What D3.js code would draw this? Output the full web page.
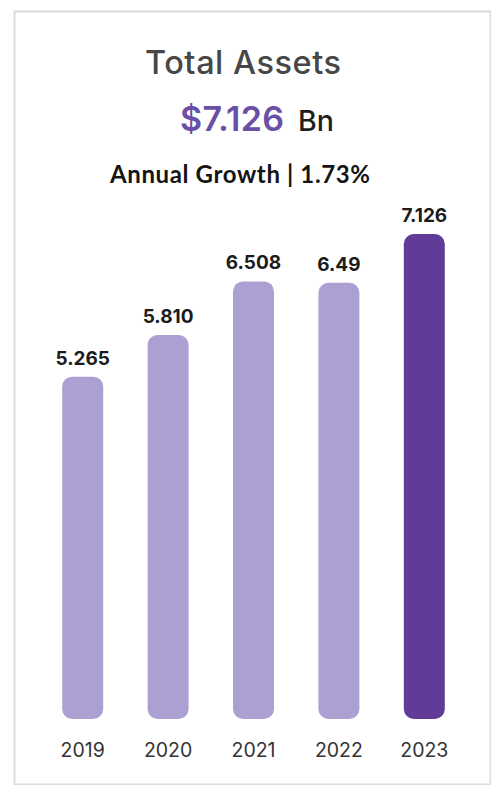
<!DOCTYPE html>
<html>
<head>
<meta charset="utf-8">
<script src="https://cdn.jsdelivr.net/npm/d3@7"></script>
<style>
  html, body { margin: 0; padding: 0; background: #ffffff; }
  svg { display: block; }
</style>
</head>
<body>
<svg id="chart" width="491" height="785"></svg>
<script>
// Total assets by year, in billions
const years = ["2019", "2020", "2021", "2022", "2023"];
const assets = [5.265, 5.810, 6.508, 6.49, 7.126];
const valueLabels = ["5.265", "5.810", "6.508", "6.49", "7.126"];
const title = "Total Assets";
const headlineValue = "$7.126";
const headlineUnit = "Bn";
const growthText = "Annual Growth | 1.73%";

const W = 491, H = 785;
const svg = d3.select("#chart");

// spread letters so a line of text spans the given width
function fitWidth(sel, width) {
  const node = sel.node();
  const n = node.getNumberOfChars();
  const w = node.getComputedTextLength();
  if (n > 1) sel.attr("letter-spacing", (width - w) / (n - 1));
  return sel;
}

// card outline
svg.append("rect")
  .attr("x", 14.5).attr("y", 11.5)
  .attr("width", W - 15).attr("height", H - 12)
  .attr("fill", "#ffffff")
  .attr("stroke", "#dcdcdc").attr("stroke-width", 2);

// headings
const titleText = svg.append("text")
  .attr("x", 145).attr("y", 74)
  .attr("font-family", "Inter, 'Noto Sans', sans-serif")
  .attr("font-weight", 500)
  .attr("font-size", 32.5)
  .attr("fill", "#474747")
  .text(title);
fitWidth(titleText, 196);

const valText = svg.append("text")
  .attr("x", 180).attr("y", 131)
  .attr("font-family", "Inter, 'Noto Sans', sans-serif")
  .attr("font-weight", 600).attr("font-size", 34).attr("fill", "#6a4fa6")
  .text(headlineValue);
fitWidth(valText, 104);

svg.append("text")
  .attr("x", 298).attr("y", 131)
  .attr("font-family", "Inter, 'Noto Sans', sans-serif")
  .attr("font-weight", 500).attr("font-size", 28.5).attr("fill", "#1e1e1e")
  .text(headlineUnit);

const growth = svg.append("text")
  .attr("x", 110).attr("y", 183)
  .attr("font-family", "Lato, 'Open Sans', sans-serif")
  .attr("font-weight", 700)
  .attr("font-size", 24)
  .attr("fill", "#141414")
  .text(growthText);
fitWidth(growth, 260);

// scales
const x = d3.scaleBand()
  .domain(years)
  .range([40, 467])
  .paddingInner(0.52)
  .paddingOuter(0.26);

const y = d3.scaleLinear()
  .domain([0.8, 7.126])
  .range([719, 234]);

const data = years.map((yr, i) => ({ year: yr, value: assets[i], label: valueLabels[i] }));
const last = years[years.length - 1];

// bars
svg.append("g")
  .selectAll("rect")
  .data(data)
  .join("rect")
  .attr("x", d => x(d.year))
  .attr("width", x.bandwidth())
  .attr("y", d => y(d.value))
  .attr("height", d => y(0.8) - y(d.value))
  .attr("rx", 10).attr("ry", 10)
  .attr("fill", d => d.year === last ? "#603b98" : "#aca0d2");

// value labels
svg.append("g")
  .selectAll("text")
  .data(data)
  .join("text")
  .attr("x", d => x(d.year) + x.bandwidth() / 2)
  .attr("y", d => y(d.value) - 12)
  .attr("text-anchor", "middle")
  .attr("font-family", "Inter, 'Noto Sans', sans-serif")
  .attr("font-weight", 700)
  .attr("font-size", 19)
  .attr("fill", "#1c1c1c")
  .text(d => d.label);

// year axis
const xAxis = svg.append("g")
  .attr("transform", "translate(0,719)")
  .call(d3.axisBottom(x).tickSize(0).tickPadding(38));
xAxis.select(".domain").remove();
xAxis.selectAll("text")
  .attr("font-family", "Inter, 'Noto Sans', sans-serif")
  .attr("font-size", 19.5)
  .attr("fill", "#333333")
  .attr("dy", 0);
</script>
</body>
</html>
